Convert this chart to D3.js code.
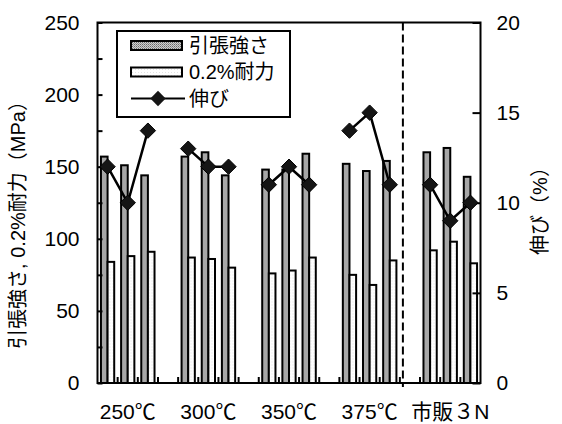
<!DOCTYPE html>
<html>
<head>
<meta charset="utf-8">
<script src="https://cdn.jsdelivr.net/npm/d3@7"></script>
<style>
	body { margin: 0; background: #fff; }
	text { font-family: "Liberation Sans", "Noto Sans CJK JP", sans-serif; fill: #000; }
</style>
</head>
<body>
<div id="chart-area"></div>
<script>
// groups and values (3 samples per group)
const groups = ["250℃", "300℃", "350℃", "375℃", "市販３N"];
const tensile = [[157, 151, 144], [157, 160, 144], [148, 148, 159], [152, 147, 154], [160, 163, 143]];
const proof = [[84, 88, 91], [87, 86, 80], [76, 78, 87], [75, 68, 85], [92, 98, 83]];
const elong = [[12, 10, 14], [13, 12, 12], [11, 12, 11], [14, 15, 11], [11, 9, 10]];
const leftTicks = [0, 50, 100, 150, 200, 250];
const rightTicks = [0, 5, 10, 15, 20];
const legendNames = ["引張強さ", "0.2%耐力", "伸び"];

const W = 562, H = 424;
const margin = {top: 22.5, right: 81.5, bottom: 41, left: 97.5};
const width = W - margin.left - margin.right,
	height = H - margin.top - margin.bottom;

// slot index: 4 per group (3 samples + 1 blank), 19 in all
let rows = [];
groups.forEach((g, gi) => {
	for (let si = 0; si < 3; si++) {
		rows.push({group: g, slot: gi * 4 + si, ts: tensile[gi][si], ys: proof[gi][si], el: elong[gi][si]});
	}
});

const svg = d3.select("#chart-area").append("svg")
	.attr("width", W)
	.attr("height", H);

const defs = svg.append("defs");
const pat = defs.append("pattern")
	.attr("id", "grayDots")
	.attr("width", 2).attr("height", 2)
	.attr("patternUnits", "userSpaceOnUse");
pat.append("rect").attr("width", 2).attr("height", 2).attr("fill", "#cfcfcf");
pat.append("rect").attr("width", 1).attr("height", 1).attr("fill", "#6a6a6a");
pat.append("rect").attr("x", 1).attr("y", 1).attr("width", 1).attr("height", 1).attr("fill", "#949494");

const pat2 = defs.append("pattern")
	.attr("id", "whiteDots")
	.attr("width", 3).attr("height", 3)
	.attr("patternUnits", "userSpaceOnUse");
pat2.append("rect").attr("width", 3).attr("height", 3).attr("fill", "#ffffff");
pat2.append("rect").attr("width", 1).attr("height", 1).attr("fill", "#e4e4e4");

const g = svg.append("g")
	.attr("transform", "translate(" + margin.left + "," + margin.top + ")");

var x = d3.scaleBand()
	.domain(d3.range(19))
	.range([0, width])
	.padding(0);
var x1 = d3.scaleBand()
	.domain(["ts", "ys"])
	.range([0, x.bandwidth()])
	.paddingInner(0)
	.paddingOuter(0.52);
var y = d3.scaleLinear().domain([0, 250]).range([height, 0]);
var y2 = d3.scaleLinear().domain([0, 20]).range([height, 0]);

// bars
const bars = g.append("g");
bars.selectAll("rect.ts")
	.data(rows)
	.join("rect")
	.attr("class", "ts")
	.attr("x", d => x(d.slot) + x1("ts"))
	.attr("y", d => y(d.ts))
	.attr("width", x1.bandwidth())
	.attr("height", d => height - y(d.ts))
	.attr("fill", "url(#grayDots)")
	.attr("stroke", "#000")
	.attr("stroke-width", 2);
bars.selectAll("rect.ys")
	.data(rows)
	.join("rect")
	.attr("class", "ys")
	.attr("x", d => x(d.slot) + x1("ys"))
	.attr("y", d => y(d.ys))
	.attr("width", x1.bandwidth())
	.attr("height", d => height - y(d.ys))
	.attr("fill", "url(#whiteDots)")
	.attr("stroke", "#000")
	.attr("stroke-width", 2);

// left axis
g.append("g")
	.attr("class", "axis y-axis")
	.call(d3.axisLeft(y).tickValues(d3.range(0, 251, 25))
		.tickFormat(d => leftTicks.includes(d) ? d : "")
		.tickSizeInner(-5).tickSizeOuter(0).tickPadding(18))
	.call(a => a.select(".domain").remove());

// right axis
g.append("g")
	.attr("class", "axis y2-axis")
	.attr("transform", "translate(" + width + ",0)")
	.call(d3.axisRight(y2).tickValues(rightTicks)
		.tickSizeInner(-8).tickSizeOuter(0).tickPadding(16))
	.call(a => a.select(".domain").remove());

g.selectAll(".axis line").attr("stroke", "#000").attr("stroke-width", 2);
g.selectAll(".axis text").style("font-size", "21px").attr("fill", "#000");

// category boundary ticks (inward)
g.append("g").selectAll("line")
	.data(d3.range(1, 19))
	.join("line")
	.attr("x1", d => x(d)).attr("x2", d => x(d))
	.attr("y1", height).attr("y2", height - 6)
	.attr("stroke", "#000").attr("stroke-width", 2);

// frame
g.append("rect")
	.attr("width", width).attr("height", height)
	.attr("fill", "none").attr("stroke", "#000").attr("stroke-width", 2);

// dashed separator before commercial material
const sepX = x(15) + x.bandwidth() * 0.15;
g.append("line")
	.attr("x1", sepX).attr("x2", sepX)
	.attr("y1", 0).attr("y2", height + 4)
	.attr("stroke", "#000").attr("stroke-width", 2)
	.attr("stroke-dasharray", "8,4");

// group labels
g.append("g").selectAll("text")
	.data(groups)
	.join("text")
	.attr("x", (d, i) => x(i * 4 + 1) + x.bandwidth() / 2)
	.attr("y", height + 36)
	.attr("text-anchor", "middle")
	.style("font-size", "21px")
	.text(d => d);

// elongation lines, one per group
var line = d3.line()
	.x(d => x(d.slot) + x.bandwidth() / 2)
	.y(d => y2(d.el));
const diamond = d3.symbol().type(d3.symbolDiamond2).size(150);
groups.forEach(gr => {
	const sub = rows.filter(r => r.group === gr);
	g.append("path")
		.datum(sub)
		.attr("d", line)
		.attr("fill", "none")
		.attr("stroke", "#000")
		.attr("stroke-width", 2.5);
	g.append("g").selectAll("path")
		.data(sub)
		.join("path")
		.attr("transform", d => "translate(" + (x(d.slot) + x.bandwidth() / 2) + "," + y2(d.el) + ")")
		.attr("d", diamond)
		.attr("fill", "#151515")
		.attr("stroke", "#000")
		.attr("stroke-width", 1);
});

// legend
const lg = svg.append("g");
lg.append("rect")
	.attr("x", 117).attr("y", 31)
	.attr("width", 173).attr("height", 86)
	.attr("fill", "#fff").attr("stroke", "#000").attr("stroke-width", 2);
const rowY = [45.5, 72, 98.5];
lg.append("rect")
	.attr("x", 131).attr("y", rowY[0] - 4.5).attr("width", 51).attr("height", 9)
	.attr("fill", "url(#grayDots)").attr("stroke", "#000").attr("stroke-width", 2);
lg.append("rect")
	.attr("x", 131).attr("y", rowY[1] - 4.5).attr("width", 51).attr("height", 9)
	.attr("fill", "url(#whiteDots)").attr("stroke", "#000").attr("stroke-width", 2);
lg.append("line")
	.attr("x1", 131).attr("x2", 185).attr("y1", rowY[2]).attr("y2", rowY[2])
	.attr("stroke", "#000").attr("stroke-width", 2);
lg.append("path")
	.attr("transform", "translate(158," + rowY[2] + ")")
	.attr("d", diamond)
	.attr("fill", "#151515");
lg.selectAll("text")
	.data(legendNames)
	.join("text")
	.attr("x", 189)
	.attr("y", (d, i) => rowY[i])
	.attr("dy", "0.36em")
	.style("font-size", "20px")
	.text(d => d);

// axis titles
svg.append("text")
	.attr("transform", "translate(25,220) rotate(-90)")
	.attr("text-anchor", "middle")
	.style("font-size", "20px")
	.text("引張強さ, 0.2%耐力（MPa）");
svg.append("text")
	.attr("transform", "translate(547,206) rotate(-90)")
	.attr("text-anchor", "middle")
	.style("font-size", "20px")
	.text("伸び（%）");
</script>
</body>
</html>
